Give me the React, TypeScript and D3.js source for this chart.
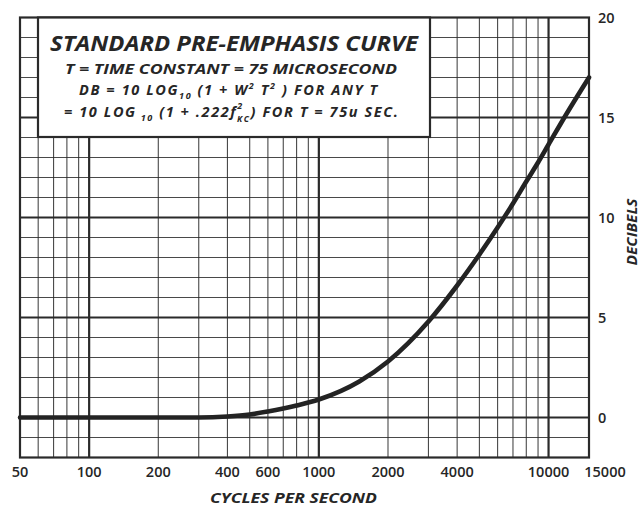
import React from "react";
import * as d3 from "d3";

const freqs = [50, 100, 200, 300, 400, 500, 600, 700, 800, 1000, 1500, 2000, 3000, 4000, 5000, 6000, 7000, 8000, 9000, 10000, 12000, 15000];
const decibels = [0, 0, 0, 0, 0.05, 0.15, 0.3, 0.45, 0.6, 0.9, 1.8, 2.8, 4.8, 6.6, 8.15, 9.5, 10.7, 11.8, 12.75, 13.65, 15.2, 17.0];

const xTickLabels = [50, 100, 200, 400, 600, 1000, 2000, 4000, 10000, 15000];
const yTickLabels = [0, 5, 10, 15, 20];
const xGridMinor = [60, 70, 80, 90, 200, 300, 400, 500, 600, 700, 800, 900, 2000, 3000, 4000, 5000, 6000, 7000, 8000, 9000];
const xGridMajor = [100, 1000, 10000];
const yGrid = d3.range(-1, 20);

const W = 640;
const H = 513;
const FONT = "'Open Sans', 'DejaVu Sans', sans-serif";

export default function App() {
  const x = d3.scaleLog().domain([50, 15000]).range([20, 589]);
  const y = d3.scaleLinear().domain([-2, 20]).range([457.5, 17.5]);
  const pts: [number, number][] = freqs.map((f, i) => [x(f), y(decibels[i])]);
  const line = d3.line().curve(d3.curveMonotoneX)(pts) || "";
  const ink = "#2a2a2a";

  return (
    <svg width={W} height={H} style={{ position: "absolute", left: 0, top: 0, background: "#fff" }} fontFamily={FONT}>
      <rect x={0} y={0} width={W} height={H} fill="#fff" />
      {/* horizontal grid */}
      {yGrid.map((v) => (
        <line key={"h" + v} x1={x(50)} x2={x(15000)} y1={y(v)} y2={y(v)} stroke={ink} strokeWidth={v % 5 === 0 ? 2.2 : 1.1} opacity={v % 5 === 0 ? 1 : 0.85} />
      ))}
      {/* vertical grid */}
      {xGridMinor.map((f) => (
        <line key={"v" + f} x1={x(f)} x2={x(f)} y1={y(-2)} y2={y(20)} stroke={ink} strokeWidth={1.1} opacity={0.85} />
      ))}
      {xGridMajor.map((f) => (
        <line key={"V" + f} x1={x(f)} x2={x(f)} y1={y(-2)} y2={y(20)} stroke={ink} strokeWidth={2.2} />
      ))}
      {/* border */}
      <rect x={x(50)} y={y(20)} width={x(15000) - x(50)} height={y(-2) - y(20)} fill="none" stroke={ink} strokeWidth={2.2} />
      {/* curve */}
      <path d={line} fill="none" stroke="#232323" strokeWidth={4.6} strokeLinecap="round" strokeLinejoin="round" />
      {/* title box */}
      <rect x={38} y={17.5} width={392} height={119.5} fill="#fff" stroke={ink} strokeWidth={2.2} />
      <g fill="#262626" fontWeight="bold" fontStyle="italic">
        <text x={234} y={51} fontSize={20.5} textAnchor="middle" textLength={368} lengthAdjust="spacingAndGlyphs">STANDARD  PRE-EMPHASIS  CURVE</text>
        <text x={65} y={74} fontSize={14} textLength={332} lengthAdjust="spacingAndGlyphs">T = TIME  CONSTANT = 75  MICROSECOND</text>
        <text x={79} y={95} fontSize={14.5} letterSpacing={1.6}>
          DB = 10  LOG<tspan fontSize={9} dy={4}>10</tspan>
          <tspan dy={-4}> (1 + W</tspan>
          <tspan fontSize={9} dy={-6}>2</tspan>
          <tspan dy={6}> T</tspan>
          <tspan fontSize={9} dy={-6}>2</tspan>
          <tspan dy={6}> )  FOR  ANY  T</tspan>
        </text>
        <text x={64} y={117} fontSize={14.5} letterSpacing={1.6}>
          = 10  LOG<tspan fontSize={9} dy={4}> 10</tspan>
          <tspan dy={-4}>  (1  + .222f</tspan>
          <tspan fontSize={9} dy={-8}>2</tspan>
          <tspan fontSize={8.5} dx={-7} dy={13}>KC</tspan>
          <tspan dy={-5}>)</tspan>
          <tspan> FOR  T = 75u  SEC.</tspan>
        </text>
      </g>
      {/* y tick labels */}
      <g fill="#262626" fontWeight={600} fontSize={14.5}>
        {yTickLabels.map((v) => (
          <text key={"yl" + v} x={598} y={y(v)} dy="0.36em">{v}</text>
        ))}
      </g>
      {/* x tick labels */}
      <g fill="#262626" fontWeight={600} fontSize={14.5} textAnchor="middle">
        {xTickLabels.map((f, i) => (
          <text key={"xl" + f} x={x(f) + (i === xTickLabels.length - 1 ? 16 : 0)} y={477}>{f}</text>
        ))}
      </g>
      {/* axis titles */}
      <text x={293.5} y={503} fontSize={14} fontWeight="bold" fontStyle="italic" textAnchor="middle" fill="#262626" textLength={167} lengthAdjust="spacingAndGlyphs">CYCLES  PER  SECOND</text>
      <text transform="translate(637,232) rotate(-90)" fontSize={14} fontWeight="bold" fontStyle="italic" textAnchor="middle" fill="#262626" textLength={67} lengthAdjust="spacingAndGlyphs">DECIBELS</text>
    </svg>
  );
}
